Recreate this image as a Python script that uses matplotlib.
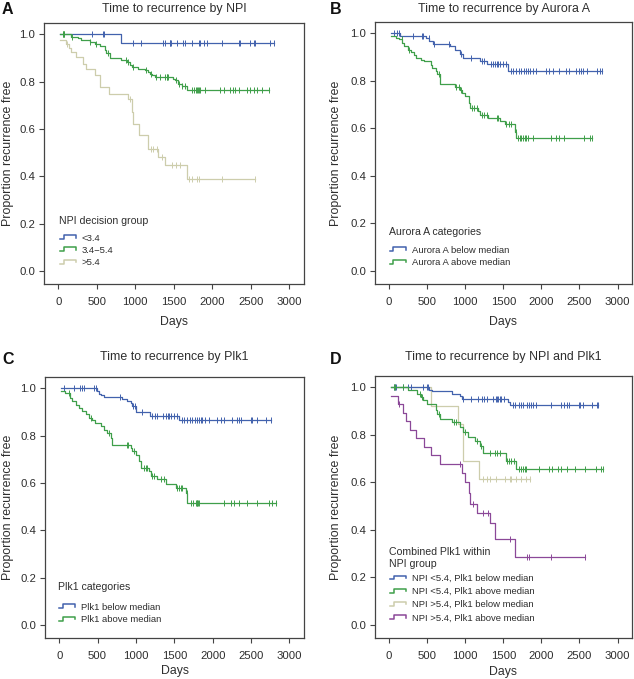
import numpy as np
import matplotlib
matplotlib.use("Agg")
import matplotlib.pyplot as plt
from matplotlib.lines import Line2D
from matplotlib.legend_handler import HandlerBase

plt.rcParams['font.family'] = ['Liberation Sans', 'DejaVu Sans']

BLUE = '#4262ad'
GREEN = '#3f9f4a'
BEIGE = '#cdcdac'
PURPLE = '#8b4898'
TXT = '#2e2e2e'

# --- A: NPI decision group (days of drop, survival after drop, censored days)
npi_low_t = [813]
npi_low_s = [0.963]
npi_low_cens = [439, 575, 590, 965, 1069, 1365, 1386, 1445, 1451, 1465, 1538, 1617, 1647, 1734,
                1821, 1843, 1886, 1930, 2125, 2343, 2365, 2495, 2538, 2560, 2743, 2799]

npi_mid_t = [169, 256, 300, 408, 473, 539, 604, 626, 669, 821, 886, 930, 952, 1039, 1126, 1169,
             1191, 1212, 1256, 1495, 1517, 1560, 1604, 1669]
npi_mid_s = [0.99, 0.985, 0.978, 0.968, 0.958, 0.95, 0.935, 0.92, 0.902, 0.893, 0.883, 0.872,
             0.862, 0.855, 0.848, 0.841, 0.834, 0.827, 0.82, 0.813, 0.806, 0.792, 0.782, 0.763]
npi_mid_cens = [60, 65, 69, 75, 178, 417, 495, 647, 878, 900, 965, 1139, 1200, 1269, 1321, 1386,
                1410, 1417, 1430, 1530, 1573, 1604, 1647, 1734, 1756, 1790, 1800, 1810, 1821,
                1843, 1908, 2104, 2147, 2234, 2269, 2299, 2343, 2451, 2495, 2538, 2582, 2647, 2734]

npi_high_s0 = 0.977
npi_high_t = [95, 139, 169, 234, 321, 365, 473, 547, 660, 908, 952, 974, 1052, 1160, 1300, 1390, 1665]
npi_high_s = [0.961, 0.942, 0.925, 0.904, 0.876, 0.855, 0.827, 0.778, 0.749, 0.728, 0.672, 0.623,
              0.573, 0.515, 0.48, 0.447, 0.39]
npi_high_cens = [117, 930, 1204, 1234, 1278, 1343, 1473, 1530, 1582, 1691, 1734, 1800, 1825, 2125, 2560]

# --- B: Aurora A
aur_low_t = [147, 480, 530, 580, 800, 860, 935, 965, 1200, 1280, 1565]
aur_low_s = [0.99, 0.98, 0.97, 0.955, 0.945, 0.93, 0.915, 0.895, 0.885, 0.87, 0.843]
aur_low_cens = [69, 104, 134, 316, 428, 441, 524, 589, 783, 948, 1078, 1216, 1247, 1333, 1368,
                1390, 1411, 1433, 1463, 1498, 1532, 1597, 1628, 1671, 1701, 1736, 1770, 1801,
                1827, 1853, 1896, 1931, 2061, 2104, 2147, 2234, 2320, 2364, 2450, 2493, 2515,
                2545, 2602, 2731, 2775, 2800]

aur_high_s0 = 0.99
aur_high_t = [90, 135, 165, 200, 245, 290, 330, 350, 415, 460, 545, 567, 610, 632, 667, 675, 870,
              935, 957, 1000, 1043, 1065, 1173, 1195, 1303, 1454, 1519, 1649, 1671]
aur_high_s = [0.982, 0.975, 0.96, 0.945, 0.93, 0.92, 0.911, 0.897, 0.89, 0.883, 0.869, 0.855,
              0.841, 0.827, 0.813, 0.787, 0.775, 0.762, 0.75, 0.735, 0.707, 0.686, 0.672, 0.655,
              0.644, 0.63, 0.618, 0.587, 0.559]
aur_high_cens = [164, 264, 654, 883, 913, 948, 1087, 1121, 1151, 1216, 1247, 1281, 1411, 1433,
                 1541, 1571, 1597, 1662, 1692, 1714, 1736, 1757, 1779, 1801, 1822, 1887, 2125,
                 2190, 2234, 2299, 2558, 2645, 2667]

# --- C: Plk1
plk_low_t = [495, 517, 547, 582, 821, 886, 930, 952, 995, 1182, 1560]
plk_low_s = [0.987, 0.978, 0.97, 0.962, 0.955, 0.947, 0.938, 0.924, 0.90, 0.885, 0.865]
plk_low_cens = [69, 191, 269, 300, 321, 452, 480, 791, 965, 982, 1082, 1212, 1243, 1278, 1356,
                1386, 1417, 1430, 1460, 1495, 1530, 1595, 1626, 1669, 1704, 1734, 1765, 1800,
                1825, 1843, 1865, 1895, 1951, 2060, 2104, 2147, 2256, 2321, 2343, 2365, 2495,
                2517, 2582, 2691, 2756]

plk_high_s0 = 0.988
plk_high_t = [82, 147, 169, 213, 256, 300, 343, 387, 430, 473, 539, 582, 626, 669, 682, 930, 952,
              995, 1039, 1060, 1169, 1191, 1278, 1386, 1517, 1647, 1669]
plk_high_s = [0.98, 0.96, 0.945, 0.931, 0.917, 0.903, 0.89, 0.875, 0.865, 0.854, 0.84, 0.826,
              0.812, 0.79, 0.762, 0.748, 0.735, 0.72, 0.692, 0.664, 0.65, 0.629, 0.615, 0.594,
              0.58, 0.559, 0.517]
plk_high_cens = [126, 408, 647, 878, 900, 973, 1104, 1126, 1147, 1212, 1234, 1321, 1365, 1539,
                 1560, 1582, 1604, 1660, 1713, 1747, 1778, 1790, 1800, 1810, 1821, 2147, 2234,
                 2278, 2343, 2451, 2582, 2734, 2778, 2821]

# --- D: NPI and Plk1 combined
lo_lo_t = [530, 570, 830, 935, 955, 1565, 1585]
lo_lo_s = [0.99, 0.983, 0.972, 0.962, 0.952, 0.938, 0.927]
lo_lo_cens = [70, 78, 85, 177, 242, 294, 450, 493, 514, 968, 1072, 1171, 1215, 1245, 1280, 1366,
              1400, 1418, 1435, 1452, 1474, 1504, 1625, 1660, 1703, 1734, 1764, 1807, 1833, 1863,
              1893, 1928, 2122, 2252, 2295, 2339, 2369, 2490, 2512, 2542, 2663, 2728, 2745]

lo_hi_t = [242, 372, 415, 440, 501, 610, 631, 674, 826, 934, 977, 1042, 1128, 1193, 1236, 1530, 1669]
lo_hi_s = [0.987, 0.973, 0.959, 0.945, 0.931, 0.903, 0.889, 0.868, 0.854, 0.833, 0.811, 0.79,
           0.776, 0.755, 0.722, 0.69, 0.655]
lo_hi_cens = [65, 72, 177, 406, 437, 653, 856, 882, 999, 1150, 1202, 1323, 1388, 1418, 1452, 1547,
              1573, 1604, 1634, 1712, 1733, 1764, 1781, 1798, 1971, 2101, 2144, 2222, 2252, 2339,
              2447, 2576, 2715, 2784, 2810]

hi_lo_t = [555, 900, 975, 1185]
hi_lo_s = [0.923, 0.846, 0.692, 0.615]
hi_lo_cens = [1236, 1288, 1331, 1409, 1517, 1582, 1604, 1668, 1733, 1798, 1850]

hi_hi_s0 = 0.964
hi_hi_t = [115, 180, 225, 280, 355, 460, 545, 675, 960, 1003, 1046, 1068, 1154, 1320, 1392, 1650]
hi_hi_s = [0.929, 0.893, 0.857, 0.821, 0.786, 0.75, 0.714, 0.679, 0.64, 0.60, 0.555, 0.51, 0.47,
           0.43, 0.36, 0.285]
hi_hi_cens = [130, 934, 1107, 1236, 1301, 1586, 1811, 1833, 2127, 2570]


class StepHandler(HandlerBase):
    def create_artists(self, legend, orig_handle, xdescent, ydescent, width, height, fontsize, trans):
        xs = np.array([0, 0.22, 0.22, 1.0, 1.0]) * width - xdescent
        ys = np.array([0.2, 0.2, 0.8, 0.8, 0.45]) * height - ydescent
        return [Line2D(xs, ys, color=orig_handle.get_color(), lw=1.1, transform=trans)]


def km(ax, t, s, cens, color, s0=1.0, start=25):
    t = np.asarray(t, float)
    s = np.asarray(s, float)
    cens = np.asarray(cens, float)
    end = max(cens.max(), t[-1])
    xs = np.concatenate([[start], t, [end]])
    ys = np.concatenate([[s0], s, [s[-1]]])
    ln, = ax.step(xs, ys, where='post', color=color, lw=0.9)
    lev = np.concatenate([[s0], s])
    idx = np.searchsorted(t, cens, side='right')
    ax.plot(cens, lev[idx], ls='none', marker='|', ms=4.8, mew=0.7, color=color)
    return ln


def setup(ax, title, title_dy, ylab_x, xlab_y):
    ax.set_xlim(-185, 3190)
    ax.set_ylim(-0.055, 1.048)
    ax.set_xticks(np.arange(0, 3001, 500))
    ax.set_yticks(np.arange(0, 1.01, 0.2))
    ax.set_yticklabels(['%.1f' % v for v in np.arange(0, 1.01, 0.2)])
    ax.tick_params(direction='out', length=3.6, width=0.8, color='#444444',
                   labelsize=8.2, labelcolor=TXT)
    ax.tick_params(axis='x', pad=6.0)
    ax.tick_params(axis='y', pad=2.6)
    for sp in ax.spines.values():
        sp.set_color('#444444')
        sp.set_linewidth(0.9)
    ax.set_xlabel('Days', fontsize=8.8, color=TXT)
    ax.xaxis.label.set_va('center')
    ax.xaxis.set_label_coords(0.5, xlab_y)
    ax.set_ylabel('Proportion recurrence free', fontsize=8.9, color=TXT)
    ax.yaxis.label.set_va('center')
    ax.yaxis.set_label_coords(ylab_x, 0.5)
    ax.text(0.5, 1 + title_dy, title, transform=ax.transAxes, ha='center', va='center',
            fontsize=8.9, color=TXT)
    return ax


def legend(ax, handles, labels, title, tx, ty, ly, spacing):
    ax.text(tx, ty, title, transform=ax.transAxes, ha='left', va='center', fontsize=7.6,
            color=TXT, linespacing=1.15)
    ax.legend(handles, labels, loc='upper left', bbox_to_anchor=(tx + 0.004, ly), frameon=False,
              borderpad=0, borderaxespad=0, fontsize=6.8, labelspacing=spacing,
              handlelength=1.7, handletextpad=0.6, labelcolor=TXT,
              handler_map={Line2D: StepHandler()})


W, H = 634, 679
fig = plt.figure(figsize=(W / 100, H / 100), dpi=100)


def axes_px(l, t, r, b):
    return fig.add_axes([l / W, 1 - b / H, (r - l) / W, (b - t) / H])


# A
ax = setup(axes_px(44, 23, 304, 284), 'Time to recurrence by NPI', 0.052, -0.138, -0.146)
h1 = km(ax, npi_low_t, npi_low_s, npi_low_cens, BLUE)
h2 = km(ax, npi_mid_t, npi_mid_s, npi_mid_cens, GREEN)
h3 = km(ax, npi_high_t, npi_high_s, npi_high_cens, BEIGE, s0=npi_high_s0)
legend(ax, [h1, h2, h3], ['<3.4', '3.4\u22125.4', '>5.4'], 'NPI decision group',
       0.058, 0.241, 0.193, 0.33)

# B
ax = setup(axes_px(375, 22, 632, 284), 'Time to recurrence by Aurora A', 0.05, -0.152, -0.146)
h1 = km(ax, aur_low_t, aur_low_s, aur_low_cens, BLUE)
h2 = km(ax, aur_high_t, aur_high_s, aur_high_cens, GREEN, s0=aur_high_s0)
legend(ax, [h1, h2], ['Aurora A below median', 'Aurora A above median'], 'Aurora A categories',
       0.054, 0.198, 0.146, 0.33)

# C
ax = setup(axes_px(45, 377, 304, 638), 'Time to recurrence by Plk1', 0.077, -0.142, -0.128)
h1 = km(ax, plk_low_t, plk_low_s, plk_low_cens, BLUE)
h2 = km(ax, plk_high_t, plk_high_s, plk_high_cens, GREEN, s0=plk_high_s0)
legend(ax, [h1, h2], ['Plk1 below median', 'Plk1 above median'], 'Plk1 categories',
       0.05, 0.195, 0.135, 0.33)

# D
ax = setup(axes_px(375, 376, 632, 638), 'Time to recurrence by NPI and Plk1', 0.073, -0.152, -0.128)
h3 = km(ax, hi_lo_t, hi_lo_s, hi_lo_cens, BEIGE)
h1 = km(ax, lo_lo_t, lo_lo_s, lo_lo_cens, BLUE)
h2 = km(ax, lo_hi_t, lo_hi_s, lo_hi_cens, GREEN)
h4 = km(ax, hi_hi_t, hi_hi_s, hi_hi_cens, PURPLE, s0=hi_hi_s0)
legend(ax, [h1, h2, h3, h4],
       ['NPI <5.4, Plk1 below median', 'NPI <5.4, Plk1 above median',
        'NPI >5.4, Plk1 below median', 'NPI >5.4, Plk1 above median'],
       'Combined Plk1 within\nNPI group', 0.056, 0.305, 0.245, 0.45)

# panel letters
for lab, x, y in [('A', 7.5, 9), ('B', 335.5, 9), ('C', 8, 359), ('D', 336, 360)]:
    fig.text(x / W, 1 - y / H, lab, ha='center', va='center', fontsize=11.5,
             fontweight='bold', color='#111111')

fig.savefig('out.png', dpi=100)
